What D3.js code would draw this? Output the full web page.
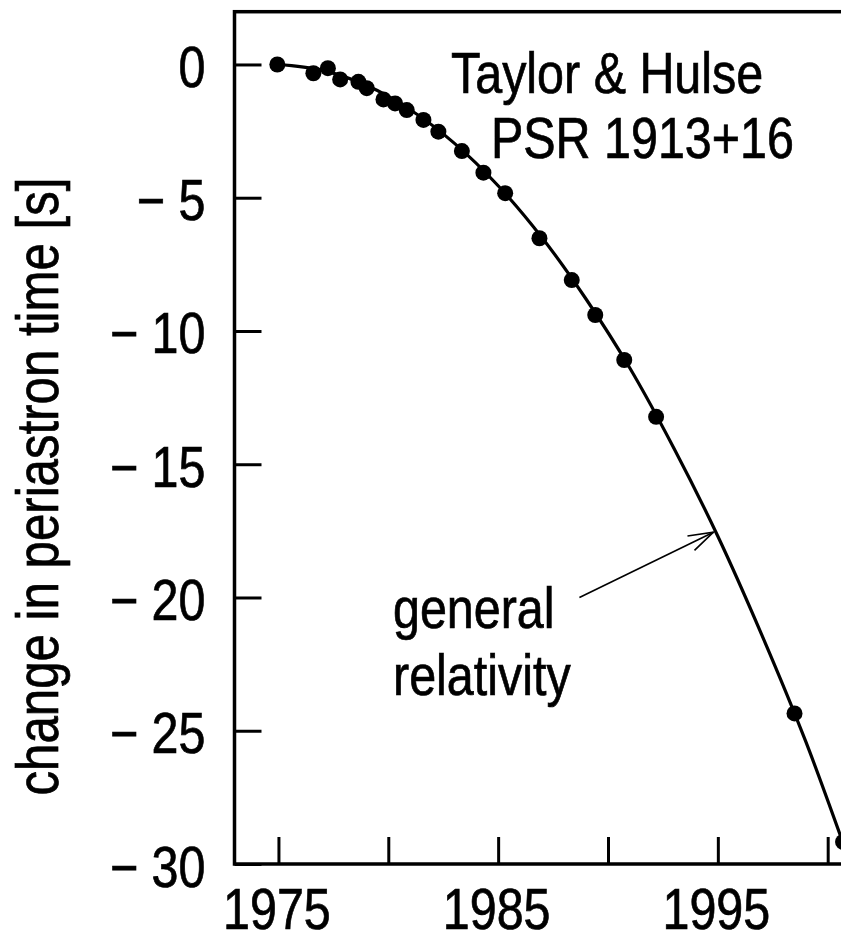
<!DOCTYPE html>
<html>
<head>
<meta charset="utf-8">
<script src="https://cdn.jsdelivr.net/npm/d3@7"></script>
<style>
  html, body { margin: 0; padding: 0; background: #fff; overflow: hidden; }
  svg { display: block; }
  text { font-family: "Liberation Sans", Arial, Helvetica, sans-serif; fill: #000; stroke: #000; stroke-width: 0.7px; }
</style>
</head>
<body>
<script>
// Observed periastron shift data (year, seconds)
const obsYears  = [1974.95, 1976.59, 1977.25, 1977.81, 1978.64, 1979.02, 1979.78, 1980.31, 1980.84, 1981.60,
                   1982.28, 1983.35, 1984.33, 1985.32, 1986.88, 1988.35, 1989.42, 1990.74, 1992.19, 1998.49, 2000.70];
const obsShift  = [0.00, -0.33, -0.14, -0.56, -0.65, -0.89, -1.31, -1.46, -1.71, -2.08,
                   -2.52, -3.25, -4.06, -4.83, -6.52, -8.09, -9.40, -11.09, -13.22, -24.35, -29.17];
// General relativity prediction curve
const grYears   = [1974.95, 1977, 1979, 1981, 1983, 1985, 1987, 1989, 1991, 1993, 1995, 1997, 1999, 2001, 2002];
const grShift   = [0.00, -0.22, -0.78, -1.70, -2.95, -4.55, -6.50, -8.80, -11.40, -14.40, -17.70, -21.40, -25.40, -29.90, -32.20];
// Axis ticks
const xTicks      = [1975, 1980, 1985, 1990, 1995, 2000];
const xTickLabels = [1975, 1985, 1995];
const yTicks      = [0, -5, -10, -15, -20, -25, -30];
// Texts
const titleLines  = ["Taylor & Hulse", "PSR 1913+16"];
const noteLines   = ["general", "relativity"];
const yLabel      = "change in periastron time [s]";
// Annotation arrow (data coords)
const arrowFrom = [1988.7, -20.0];
const arrowTo   = [1994.8, -17.55];

const W = 841, H = 938;
const SX = 0.85;           // horizontal squeeze of the narrow typeface
const FS = 57;

const svg = d3.select("body").append("svg").attr("width", W).attr("height", H);

const x = d3.scaleLinear().domain([1973, 2003]).range([234.5, 234.5 + 30 * 21.97]);
const y = d3.scaleLinear().domain([-30, 1.98]).range([864, 11.7]);

const plotL = x.range()[0], plotR = x.range()[1], plotT = y.range()[1], plotB = y.range()[0];

// clip
svg.append("defs").append("clipPath").attr("id", "clip")
  .append("rect").attr("x", plotL).attr("y", plotT).attr("width", plotR - plotL).attr("height", plotB - plotT);

// arrow marker
svg.select("defs").append("marker")
  .attr("id", "arr").attr("markerUnits", "userSpaceOnUse")
  .attr("viewBox", "-2 -10 30 20").attr("refX", 25).attr("refY", 0)
  .attr("markerWidth", 30).attr("markerHeight", 20).attr("orient", "auto")
  .append("path").attr("d", "M0,-8 L25,0 L0,8")
  .attr("fill", "none").attr("stroke", "#000").attr("stroke-width", 1.6);

// Axes (ticks inward)
const xAxis = d3.axisBottom(x).tickValues(xTicks).tickSizeInner(-27).tickSizeOuter(0)
  .tickFormat(d => xTickLabels.includes(d) ? String(d) : "");
const gx = svg.append("g").attr("transform", `translate(0,${plotB})`).call(xAxis);
gx.select(".domain").remove();
gx.selectAll(".tick line").attr("stroke", "#000").attr("stroke-width", 3);
gx.selectAll(".tick text")
  .attr("y", null).attr("dy", null)
  .attr("transform", `translate(-2,65) scale(${SX},1)`)
  .attr("text-anchor", "middle")
  .style("font-size", FS + "px").attr("fill", "#000");

const yAxis = d3.axisLeft(y).tickValues(yTicks).tickSizeInner(-27).tickSizeOuter(0)
  .tickFormat(d => d === 0 ? "0" : "\u2212 " + Math.abs(d));
const gy = svg.append("g").attr("transform", `translate(${plotL},0)`).call(yAxis);
gy.select(".domain").remove();
gy.selectAll(".tick line").attr("stroke", "#000").attr("stroke-width", 3);
gy.selectAll(".tick text")
  .attr("x", null).attr("dy", null)
  .attr("transform", `translate(-29,22) scale(${SX},1)`)
  .attr("text-anchor", "end")
  .style("font-size", FS + "px").attr("fill", "#000");

// frame
svg.append("rect").attr("x", plotL).attr("y", plotT)
  .attr("width", plotR - plotL).attr("height", plotB - plotT)
  .attr("fill", "none").attr("stroke", "#000").attr("stroke-width", 3.5);

const plot = svg.append("g").attr("clip-path", "url(#clip)");

// GR curve
const grData = grYears.map((t, i) => [t, grShift[i]]);
plot.append("path").datum(grData)
  .attr("d", d3.line().x(d => x(d[0])).y(d => y(d[1])).curve(d3.curveCatmullRom.alpha(0.5)))
  .attr("fill", "none").attr("stroke", "#000").attr("stroke-width", 3.2);

// observed dots
plot.selectAll("circle.obs").data(obsYears.map((t, i) => [t, obsShift[i]]))
  .join("circle").attr("class", "obs")
  .attr("cx", d => x(d[0])).attr("cy", d => y(d[1])).attr("r", 8)
  .attr("fill", "#000");

// title
svg.selectAll("text.title").data(titleLines).join("text").attr("class", "title")
  .attr("transform", (d, i) => `translate(${i === 0 ? 451 : 491},${i === 0 ? 93 : 158}) scale(${SX},1)`)
  .style("font-size", FS + "px").text(d => d);

// annotation
svg.selectAll("text.note").data(noteLines).join("text").attr("class", "note")
  .attr("transform", (d, i) => `translate(393,${628 + i * 67}) scale(${SX},1)`)
  .style("font-size", FS + "px").text(d => d);

svg.append("line")
  .attr("x1", x(arrowFrom[0])).attr("y1", y(arrowFrom[1]))
  .attr("x2", x(arrowTo[0])).attr("y2", y(arrowTo[1]))
  .attr("stroke", "#000").attr("stroke-width", 1.6)
  .attr("marker-end", "url(#arr)");

// y label
svg.append("text")
  .attr("transform", `translate(58,486.5) rotate(-90) scale(0.82,1)`)
  .attr("text-anchor", "middle")
  .style("font-size", "60px").text(yLabel);
</script>
</body>
</html>
